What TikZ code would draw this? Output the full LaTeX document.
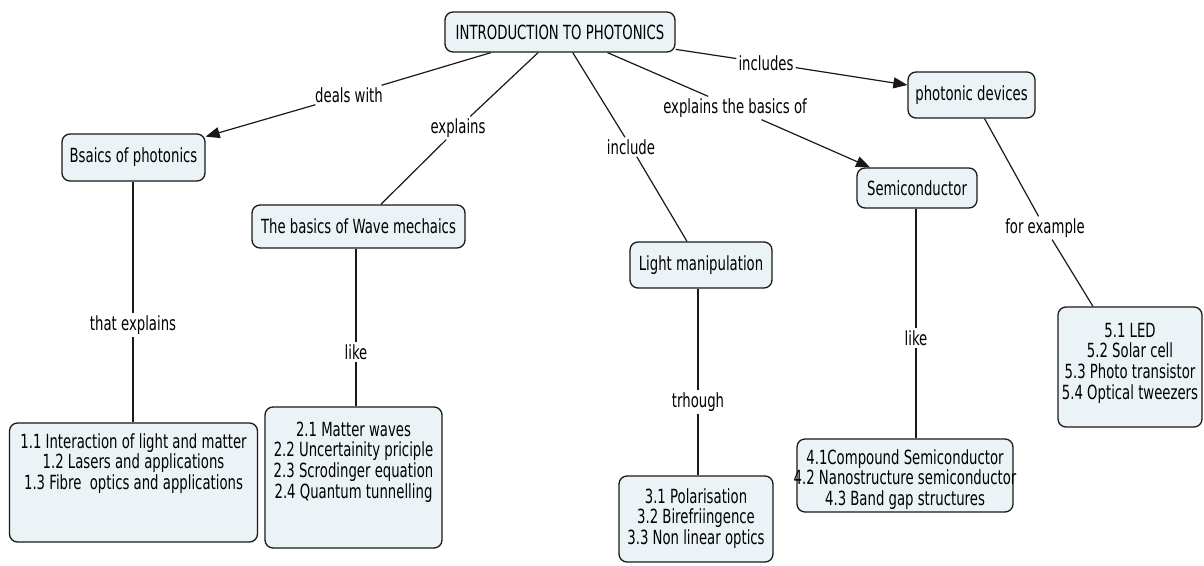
\documentclass[tikz,border=0pt]{standalone}
\usepackage{fontspec}
\setmainfont{DejaVu Sans}[FakeStretch=0.68]
\usetikzlibrary{arrows.meta}

\definecolor{conceptfill}{RGB}{236,243,246}
\definecolor{edgeink}{RGB}{25,25,25}

% multi-line concept text: width, height, first-baseline offset, lines
\newcommand{\conceptlines}[4]{\parbox[c][#2][t]{#1}{\makebox[#1]{\begin{tabular}[t]{@{}c@{}}\rule{0pt}{#3}#4\end{tabular}}\par}}

\begin{document}
\begin{tikzpicture}[x=1pt, y=-1pt,
  font=\fontsize{19.5}{20}\selectfont,
  concept/.style={draw=edgeink, fill=conceptfill, rounded corners=8pt,
    line width=1.3pt, inner sep=0pt, align=center},
  linkphrase/.style={inner sep=2pt},
  conn/.style={draw=edgeink, line width=1.2pt},
  arrowconn/.style={conn, -{Triangle[length=14pt,width=11pt]}}]

\useasboundingbox (0,0) rectangle (1204,565);

% concepts
\node[concept, minimum width=230pt, minimum height=40pt] (root) at (560,32) {INTRODUCTION TO PHOTONICS};
\node[concept, minimum width=143pt, minimum height=47pt] (basics) at (133.5,157.5) {Bsaics of photonics};
\node[concept, minimum width=213pt, minimum height=43pt] (wave) at (358.5,226.5) {The basics of Wave mechaics};
\node[concept, minimum width=142pt, minimum height=46pt] (light) at (701,265) {Light manipulation};
\node[concept, minimum width=120pt, minimum height=40pt] (semi) at (917,188) {Semiconductor};
\node[concept, minimum width=127pt, minimum height=46pt] (devices) at (971.5,95) {photonic devices};

\node[concept] (topics1) at (133.5,482.5) {\conceptlines{248pt}{119pt}{25pt}{1.1 Interaction of light and matter\\1.2 Lasers and applications\\1.3 Fibre\ \ optics and applications}};
\node[concept] (topics2) at (353.5,477.5) {\conceptlines{177pt}{141pt}{29pt}{2.1 Matter waves\\2.2 Uncertainity priciple\\2.3 Scrodinger equation\\2.4 Quantum tunnelling}};
\node[concept] (topics3) at (696,519) {\conceptlines{154pt}{86pt}{27pt}{3.1 Polarisation\\3.2 Birefriingence\\3.3 Non linear optics}};
\node[concept] (topics4) at (905,475.5) {\conceptlines{216pt}{73pt}{25pt}{4.1Compound Semiconductor\\4.2 Nanostructure semiconductor\\4.3 Band gap structures}};
\node[concept] (topics5) at (1130,367) {\conceptlines{144pt}{120pt}{30pt}{5.1 LED\\5.2 Solar cell\\5.3 Photo transistor\\5.4 Optical tweezers}};

% linking phrases
\node[linkphrase] (dealswith) at (349,95) {deals with};
\node[linkphrase] (explains) at (458,128) {explains};
\node[linkphrase] (include) at (631,147) {include};
\node[linkphrase] (explbasics) at (735,108) {explains the basics of};
\node[linkphrase] (includes) at (766,63) {includes};
\node[linkphrase] (forexample) at (1045,228) {for example};
\node[linkphrase] (thatexpl) at (133,325) {that explains};
\node[linkphrase] (like1) at (356,352) {like};
\node[linkphrase] (through) at (698,402) {trhough};
\node[linkphrase] (like2) at (916,338) {like};

% connections
\draw[conn] (root) -- (dealswith);
\draw[arrowconn] (dealswith) -- (basics);
\draw[conn] (root) -- (explains);
\draw[conn] (explains) -- (wave);
\draw[conn] (root) -- (include);
\draw[conn] (include) -- (light);
\draw[conn] (root) -- (explbasics);
\draw[arrowconn] (explbasics) -- (semi);
\draw[conn] (root) -- (includes);
\draw[arrowconn] (includes) -- (devices);
\draw[conn] (devices) -- (forexample);
\draw[conn] (forexample) -- (topics5);

\draw[conn] (thatexpl |- basics.south) -- (thatexpl);
\draw[conn] (thatexpl) -- (thatexpl |- topics1.north);
\draw[conn] (like1 |- wave.south) -- (like1);
\draw[conn] (like1) -- (like1 |- topics2.north);
\draw[conn] (through |- light.south) -- (through);
\draw[conn] (through) -- (through |- topics3.north);
\draw[conn] (like2 |- semi.south) -- (like2);
\draw[conn] (like2) -- (like2 |- topics4.north);
\end{tikzpicture}
\end{document}
